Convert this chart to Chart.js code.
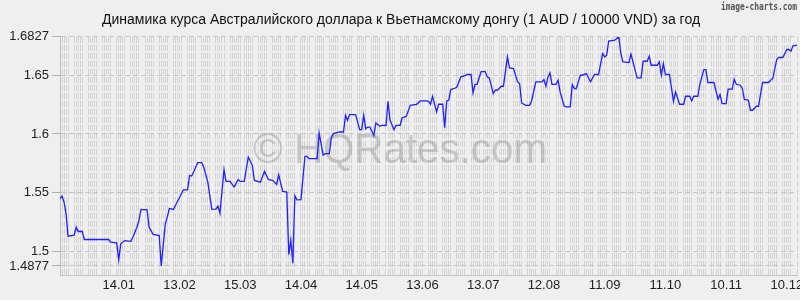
<!DOCTYPE html>
<html>
<head>
<meta charset="utf-8">
<script src="https://cdn.jsdelivr.net/npm/chart.js@4"></script>
<style>
  html, body { margin: 0; padding: 0; background: #efefef; }
  canvas { display: block; }
</style>
</head>
<body>
<canvas id="aud-vnd" width="800" height="300"></canvas>
<script>
// AUD / VND (x10000), one year, day 0 = 16.12
const days = [
    0, 1, 2, 3, 4, 7, 8, 9, 11, 12,
    24, 25, 28, 29, 30, 32, 35, 36, 38, 39,
    40, 43, 44, 46, 49, 50, 52, 53, 54, 56,
    58, 61, 63, 64, 65, 66, 68, 70, 71, 73,
    75, 77, 78, 79, 81, 82, 84, 86, 88, 89,
    91, 93, 95, 96, 99, 101, 103, 105, 107, 108,
    110, 112, 113, 114, 115, 116, 117, 119, 121, 122,
    123, 127, 128, 130, 131, 133, 134, 135, 138, 140,
    141, 142, 143, 146, 148, 149, 150, 151, 152, 153,
    155, 156, 158, 159, 161, 162, 163, 165, 166, 168,
    169, 171, 173, 175, 176, 178, 181, 182, 183, 184,
    186, 187, 189, 190, 191, 192, 193, 195, 196, 198,
    200, 201, 203, 204, 205, 206, 208, 210, 211, 212,
    214, 215, 216, 218, 219, 221, 222, 224, 226, 227,
    228, 230, 232, 233, 235, 238, 239, 240, 241, 242,
    243, 245, 246, 247, 249, 250, 252, 253, 254, 255,
    257, 258, 260, 262, 264, 266, 268, 269, 270, 271,
    274, 276, 277, 278, 281, 282, 283, 285, 287, 288,
    290, 291, 292, 295, 296, 297, 298, 299, 301, 303,
    304, 306, 308, 309, 311, 312, 313, 315, 316, 318,
    319, 320, 323, 325, 326, 327, 329, 330, 332, 333,
    334, 336, 337, 338, 339, 340, 341, 342, 344, 345,
    347, 350, 351, 352, 354, 355, 357, 359, 360, 361,
    362, 364
];
const rates = [
    1.5449, 1.5471, 1.542, 1.532, 1.513, 1.5139, 1.5207, 1.517, 1.517, 1.5102,
    1.5102, 1.5079, 1.5074, 1.4929, 1.5065, 1.5093, 1.5087, 1.5121, 1.5207, 1.5264,
    1.5358, 1.5355, 1.5207, 1.5145, 1.5136, 1.4877, 1.5236, 1.5292, 1.5366, 1.5358,
    1.5426, 1.5525, 1.5525, 1.5647, 1.5642, 1.5676, 1.5756, 1.5756, 1.5718, 1.559,
    1.5358, 1.536, 1.5386, 1.5326, 1.5696, 1.5596, 1.5596, 1.5548, 1.5613, 1.5596,
    1.5596, 1.5804, 1.5733, 1.5605, 1.559, 1.5682, 1.5611, 1.5605, 1.5571, 1.5653,
    1.5511, 1.5505, 1.4974, 1.51, 1.49, 1.5474, 1.544, 1.5442, 1.581, 1.581,
    1.579, 1.579, 1.6008, 1.5818, 1.5833, 1.5833, 1.5969, 1.6003, 1.6017, 1.6017,
    1.6159, 1.6116, 1.6165, 1.6165, 1.6037, 1.6037, 1.6159, 1.6045, 1.6059, 1.6059,
    1.5988, 1.6093, 1.6065, 1.6074, 1.6072, 1.6278, 1.6116, 1.6037, 1.6074, 1.6074,
    1.6139, 1.615, 1.6244, 1.625, 1.625, 1.6281, 1.6281, 1.6278, 1.6253, 1.6321,
    1.6187, 1.6253, 1.6253, 1.6054, 1.6281, 1.6287, 1.6378, 1.6389, 1.64, 1.6486,
    1.6497, 1.6506, 1.6506, 1.6349, 1.6423, 1.6423, 1.6531, 1.6531, 1.6486, 1.6477,
    1.6344, 1.6372, 1.6372, 1.6406, 1.6406, 1.6656, 1.6562, 1.6557, 1.6443, 1.6429,
    1.6264, 1.6244, 1.6244, 1.6287, 1.6443, 1.6443, 1.6463, 1.6406, 1.6486, 1.652,
    1.6423, 1.6423, 1.6457, 1.6358, 1.6238, 1.623, 1.623, 1.6421, 1.6387, 1.6387,
    1.65, 1.65, 1.6514, 1.6443, 1.6506, 1.6506, 1.6685, 1.6656, 1.6671, 1.679,
    1.6798, 1.6827, 1.6685, 1.6613, 1.6608, 1.6679, 1.6613, 1.6477, 1.6477, 1.6619,
    1.6619, 1.6662, 1.6585, 1.6585, 1.6613, 1.65, 1.6599, 1.6506, 1.6506, 1.6278,
    1.6358, 1.6253, 1.6253, 1.6321, 1.6321, 1.6281, 1.6321, 1.6321, 1.6423, 1.6548,
    1.6548, 1.6438, 1.6438, 1.6295, 1.6335, 1.6259, 1.6259, 1.6381, 1.6381, 1.6466,
    1.6423, 1.6415, 1.6387, 1.6293, 1.6293, 1.6287, 1.6202, 1.6202, 1.6236, 1.6236,
    1.6438, 1.6438, 1.6457, 1.6472, 1.6634, 1.6651, 1.6651, 1.6719, 1.6719, 1.6705,
    1.675, 1.6756
];
const labelDays = [29, 59, 89, 119, 149, 179, 209, 239, 269, 299, 329, 359];
const tickLabels = ['14.01', '13.02', '15.03', '14.04', '14.05', '13.06',
    '13.07', '12.08', '11.09', '11.10', '10.11', '10.12'];
const yTicks = [1.4877, 1.5, 1.55, 1.6, 1.65, 1.6827];

const points = days.map((d, i) => ({ x: d, y: rates[i] }));

// grey page background + watermark + image-charts mark
const decor = {
    id: 'decor',
    beforeDraw(chart) {
        const ctx = chart.ctx;
        ctx.save();
        ctx.fillStyle = '#efefef';
        ctx.fillRect(0, 0, chart.width, chart.height);
        ctx.restore();
    },
    beforeDatasetsDraw(chart) {
        const ctx = chart.ctx;
        ctx.save();
        ctx.font = '42px "Liberation Sans", Arial, sans-serif';
        ctx.fillStyle = 'rgba(150,150,150,0.45)';
        ctx.textAlign = 'center';
        ctx.textBaseline = 'alphabetic';
        ctx.fillText('\u00A9 HQRates.com', 400, 163, 294);
        ctx.restore();
    },
    afterDraw(chart) {
        const ctx = chart.ctx;
        ctx.save();
        ctx.font = 'bold 10px "DejaVu Sans Mono", monospace';
        ctx.fillStyle = '#555555';
        ctx.textAlign = 'right';
        ctx.textBaseline = 'top';
        ctx.fillText('image-charts.com', 797, 2, 76);
        ctx.restore();
    }
};

Chart.defaults.font.family = '"Liberation Sans", Arial, sans-serif';
Chart.defaults.color = '#222222';

const config = {
    type: 'line',
    data: {
        datasets: [{
            label: 'AUD/VND',
            data: points,
            borderColor: '#1f1fff',
            borderWidth: 1.3,
            pointRadius: 0,
            tension: 0,
            fill: false
        }]
    },
    options: {
        responsive: false,
        animation: false,
        layout: {
            padding: { left: 5, right: 3, top: 0, bottom: 0 }
        },
        plugins: {
            legend: { display: false },
            tooltip: { enabled: false },
            title: {
                display: true,
                text: 'Динамика курса Австралийского доллара к Вьетнамскому донгу (1 AUD / 10000 VND) за год',
                color: '#111111',
                font: { size: 14, weight: 'normal' },
                padding: { top: 12, bottom: 8 }
            }
        },
        scales: {
            x: {
                type: 'linear',
                min: 0,
                max: 364,
                afterBuildTicks(scale) {
                    const vals = [];
                    for (let d = 0; d <= 364; d++) {
                        if (d % 7 < 5 || labelDays.includes(d)) vals.push(d);
                    }
                    scale.ticks = vals.map(v => ({ value: v }));
                },
                afterFit(scale) {
                    scale.height = 25;
                    scale.paddingLeft = 0;
                    scale.paddingRight = 0;
                },
                ticks: {
                    autoSkip: false,
                    maxRotation: 0,
                    padding: 3,
                    font: { size: 13 },
                    color: '#222222',
                    callback(v) {
                        const i = labelDays.indexOf(v);
                        return i >= 0 ? tickLabels[i] : '';
                    }
                },
                grid: {
                    color: '#d2d2d2',
                    lineWidth: 1,
                    drawTicks: false
                },
                border: {
                    display: true,
                    color: '#c4c4c4',
                    dash: [6, 2]
                }
            },
            y: {
                min: 1.48,
                max: 1.6827,
                afterBuildTicks(scale) {
                    scale.ticks = yTicks.map(v => ({ value: v }));
                },
                afterFit(scale) {
                    scale.width = 55;
                },
                ticks: {
                    padding: 3,
                    font: { size: 13 },
                    color: '#222222',
                    callback(v) {
                        return String(v);
                    }
                },
                grid: {
                    color: '#c6c6c6',
                    tickColor: '#b0b0b0',
                    tickLength: 8,
                    tickBorderDash: [],
                    lineWidth: 1
                },
                border: {
                    display: true,
                    color: '#bdbdbd',
                    dash: [5, 3]
                }
            }
        }
    },
    plugins: [decor]
};

const audVnd = new Chart(document.getElementById('aud-vnd'), config);
</script>
</body>
</html>
